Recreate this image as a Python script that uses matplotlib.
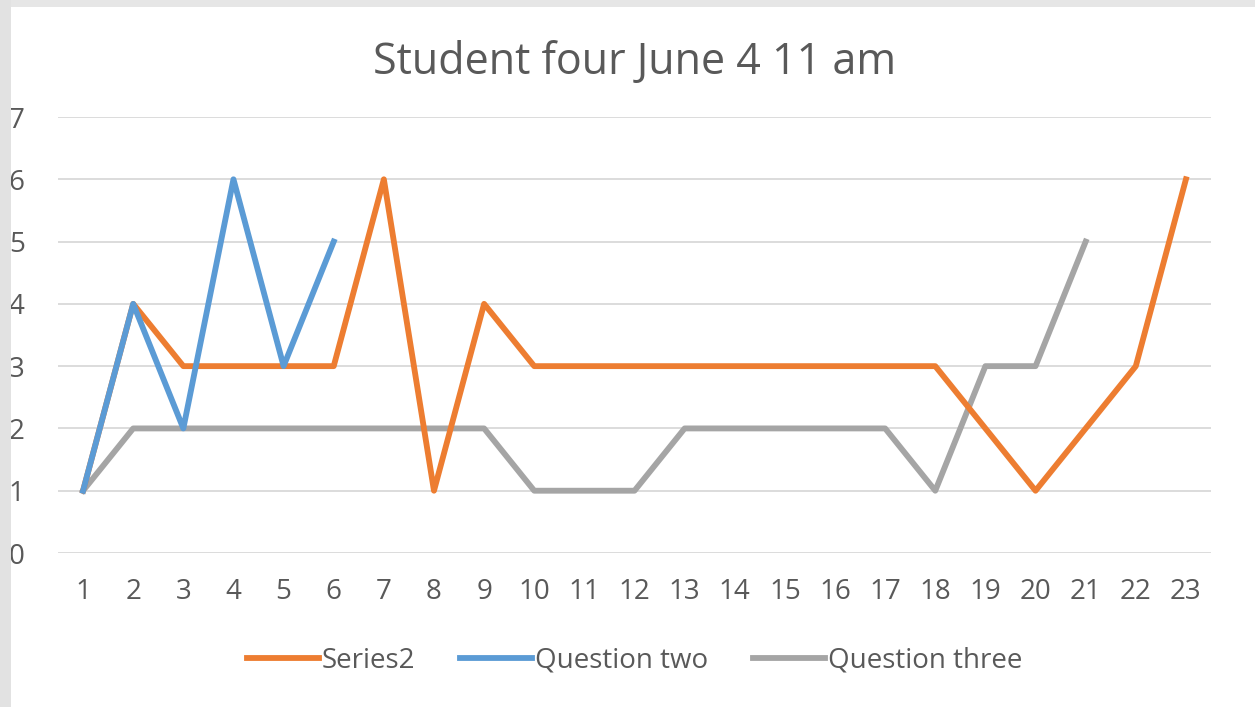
import numpy as np
import matplotlib
matplotlib.use('Agg')
from matplotlib import pyplot as plt
from matplotlib import patches as mpatches

# values
categories = list(range(1, 24))
series2 = [1, 4, 3, 3, 3, 3, 6, 1, 4, 3, 3, 3, 3, 3, 3, 3, 3, 3, 2, 1, 2, 3, 6]
question_two = [1, 4, 2, 6, 3, 5]
question_three = [1, 2, 2, 2, 2, 2, 2, 2, 2, 1, 1, 1, 2, 2, 2, 2, 2, 1, 3, 3, 5]
y_ticks = [0, 1, 2, 3, 4, 5, 6, 7]

plt.rcParams['font.family'] = ['Open Sans', 'DejaVu Sans']

W, H = 1255, 707
fig = plt.figure(figsize=(W / 100, H / 100), dpi=100)

# grey frame of the screenshot
fig.patches.append(mpatches.Rectangle((0, 1 - 7 / H), 1, 7 / H, transform=fig.transFigure,
                                      facecolor='#e6e6e6', edgecolor='none', zorder=0))
fig.patches.append(mpatches.Rectangle((0, 0), 11 / W, 1, transform=fig.transFigure,
                                      facecolor='#e2e2e2', edgecolor='none', zorder=0))

ax = fig.add_axes([58 / W, 1 - 553 / H, (1211 - 58) / W, (553 - 117) / H])

ax.plot(categories[:len(series2)], series2, color='#ED7D31', lw=4.2,
        solid_joinstyle='round', label='Series2', zorder=3)
ax.plot(categories[:len(question_two)], question_two, color='#5B9BD5', lw=4.2,
        solid_joinstyle='round', label='Question two', zorder=4)
ax.plot(categories[:len(question_three)], question_three, color='#A5A5A5', lw=4.2,
        solid_joinstyle='round', label='Question three', zorder=2)

ax.set_xlim(0.5, 23.5)
ax.set_ylim(0, 7)
ax.set_xticks(categories)
ax.set_yticks(y_ticks)
ax.grid(axis='y', color='#d9d9d9', lw=1.3)
ax.set_axisbelow(True)
for s in ax.spines.values():
    s.set_visible(False)
ax.tick_params(axis='both', length=0, labelsize=20, labelcolor='#595959')
ax.tick_params(axis='x', pad=18)
ax.tick_params(axis='y', pad=24)

ax.set_title('Student four June 4 11 am', fontsize=31, color='#595959', pad=31)

ax.legend(loc='center', bbox_to_anchor=(0.5, (553 - 661) / (553 - 117)), ncol=3,
          frameon=False, fontsize=20, labelcolor='#595959', handlelength=2.6,
          handletextpad=0.1, columnspacing=1.6)

plt.savefig('out.png', dpi=100)
